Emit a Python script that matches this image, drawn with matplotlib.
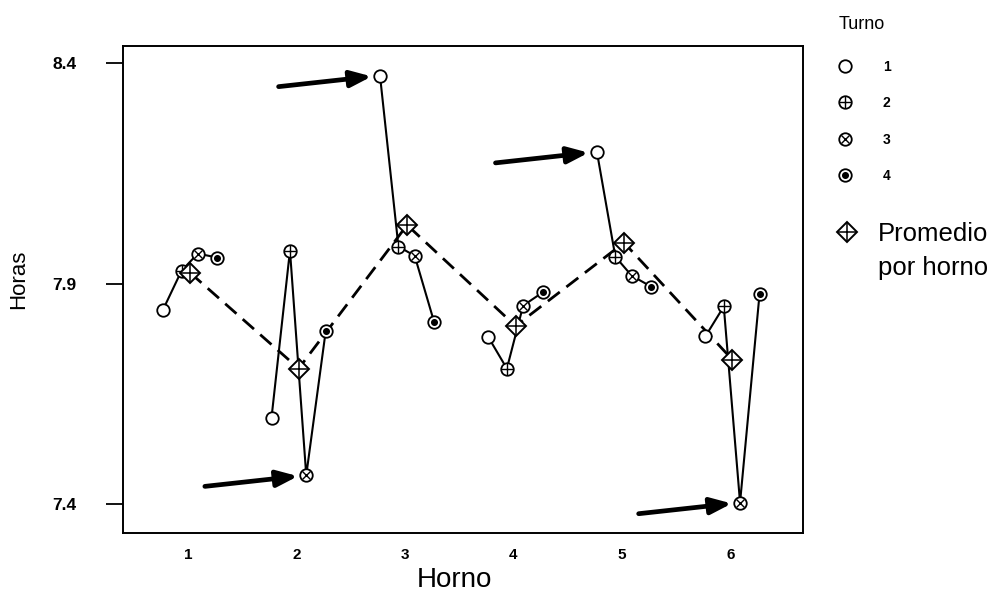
import matplotlib
matplotlib.use("Agg")
import matplotlib.pyplot as plt
import numpy as np
from matplotlib.lines import Line2D

plt.rcParams.update({"font.family": ["Liberation Sans", "DejaVu Sans"]})

# horas por horno (1-6) y turno (1-4)
hornos = [1, 2, 3, 4, 5, 6]
turnos = ["1", "2", "3", "4"]
turno1 = [7.841, 7.596, 8.372, 7.778, 8.199, 7.780]
turno2 = [7.929, 7.975, 7.984, 7.707, 7.961, 7.848]
turno3 = [7.968, 7.465, 7.963, 7.850, 7.918, 7.403]
turno4 = [7.959, 7.793, 7.812, 7.880, 7.893, 7.877]
y_ticks = [7.4, 7.9, 8.4]
# (horno, turno) of the flagged outliers
outliers = [(3, 1), (5, 1), (2, 3), (6, 3)]

horas = np.array([turno1, turno2, turno3, turno4]).T   # rows = horno
promedio = horas.mean(axis=1)

offs = [-0.23, -0.06, 0.09, 0.27]   # x spread of the 4 turnos within a horno
avg_off = 0.02
INK = "black"
ms = 9


def draw_marker(ax, x, y, t):
    """turno glyph: open circle, circle+plus, circle+x, circle+dot"""
    ax.plot(x, y, "o", ms=ms, mfc="white", mec=INK, mew=1.3, zorder=4)
    if t == 1:
        ax.plot(x, y, "+", ms=ms, mec=INK, mew=1.0, zorder=5)
    elif t == 2:
        ax.plot(x, y, "x", ms=ms * 0.68, mec=INK, mew=1.0, zorder=5)
    elif t == 3:
        ax.plot(x, y, "o", ms=ms * 0.45, mfc=INK, mec=INK, zorder=5)


fig = plt.figure(figsize=(9.94, 5.96), dpi=100)
ax = fig.add_axes([0.1237, 0.1057, 0.6841, 0.8171])

# averages joined across hornos (dashed)
xa = np.array(hornos) + avg_off
ax.plot(xa, promedio, color=INK, lw=2.0, ls=(0, (5.4, 3.0)), zorder=2)

# turnos joined within each horno (solid)
for i, h in enumerate(hornos):
    xs = [h + o for o in offs]
    ax.plot(xs, horas[i], color=INK, lw=1.5, zorder=3)
    for t in range(4):
        draw_marker(ax, xs[t], horas[i, t], t)

# average diamonds
ax.plot(xa, promedio, "D", ms=10, mfc="white", mec=INK, mew=1.4, ls="none", zorder=6)
ax.plot(xa, promedio, "+", ms=13.5, mec=INK, mew=1.1, ls="none", zorder=7)

# arrows pointing at the outliers
for h, t in outliers:
    ax.annotate("", xy=(h + offs[t - 1], horas[h - 1, t - 1]), xycoords="data",
                xytext=(-73, -8), textcoords="offset points",
                arrowprops=dict(arrowstyle="-|>,head_length=0.9,head_width=0.35",
                                lw=3.4, color=INK, shrinkA=0, shrinkB=6,
                                mutation_scale=14))

ax.set_xlim(0.40, 6.67)
ax.set_ylim(7.334, 8.439)
ax.set_xticks(hornos)
ax.set_xticklabels([str(h) for h in hornos], fontsize=11, fontweight="bold")
ax.set_yticks(y_ticks)
ax.set_yticklabels([f"{v:.1f}" for v in y_ticks], fontsize=12.5, fontweight="bold")
ax.tick_params(axis="x", length=0, pad=11)
ax.tick_params(axis="y", length=12, width=1.3, direction="out", pad=21.5)
for s in ax.spines.values():
    s.set_linewidth(1.4)

ax.set_xlabel("Horno", fontsize=20, va="center")
ax.set_ylabel("Horas", fontsize=16, va="center")
ax.xaxis.set_label_coords(0.488, -0.097)
ax.yaxis.set_label_coords(-0.154, 0.52)

# legend: turnos
h_open = Line2D([], [], marker="o", ms=ms, mfc="white", mec=INK, mew=1.3, ls="none")
h_plus = Line2D([], [], marker="+", ms=ms, mec=INK, mew=1.0, ls="none")
h_x = Line2D([], [], marker="x", ms=ms * 0.68, mec=INK, mew=1.0, ls="none")
h_dot = Line2D([], [], marker="o", ms=ms * 0.45, mfc=INK, mec=INK, ls="none")
handles = [(h_open,), (h_open, h_plus), (h_open, h_x), (h_open, h_dot)]
leg1 = fig.legend(handles, turnos, title="Turno", loc="upper left",
                  bbox_to_anchor=(0.838, 0.982), frameon=False,
                  prop={"size": 10, "weight": "bold"},
                  title_fontsize=13, labelspacing=1.62, handlelength=1.0,
                  handletextpad=2.2, borderaxespad=0)
leg1._legend_box.align = "left"
leg1._legend_box.sep = 19

h_dia = Line2D([], [], marker="D", ms=10.5, mfc="white", mec=INK, mew=1.4, ls="none")
h_dplus = Line2D([], [], marker="+", ms=14.5, mec=INK, mew=1.1, ls="none")
h_none = Line2D([], [], ls="none")
fig.legend([(h_dia, h_dplus), h_none], ["Promedio", "por horno"], loc="upper left",
           bbox_to_anchor=(0.826, 0.644), frameon=False, fontsize=18.5,
           labelspacing=0.36, handlelength=1.2, handletextpad=0.6, borderaxespad=0)

fig.savefig("out.png", dpi=100)
